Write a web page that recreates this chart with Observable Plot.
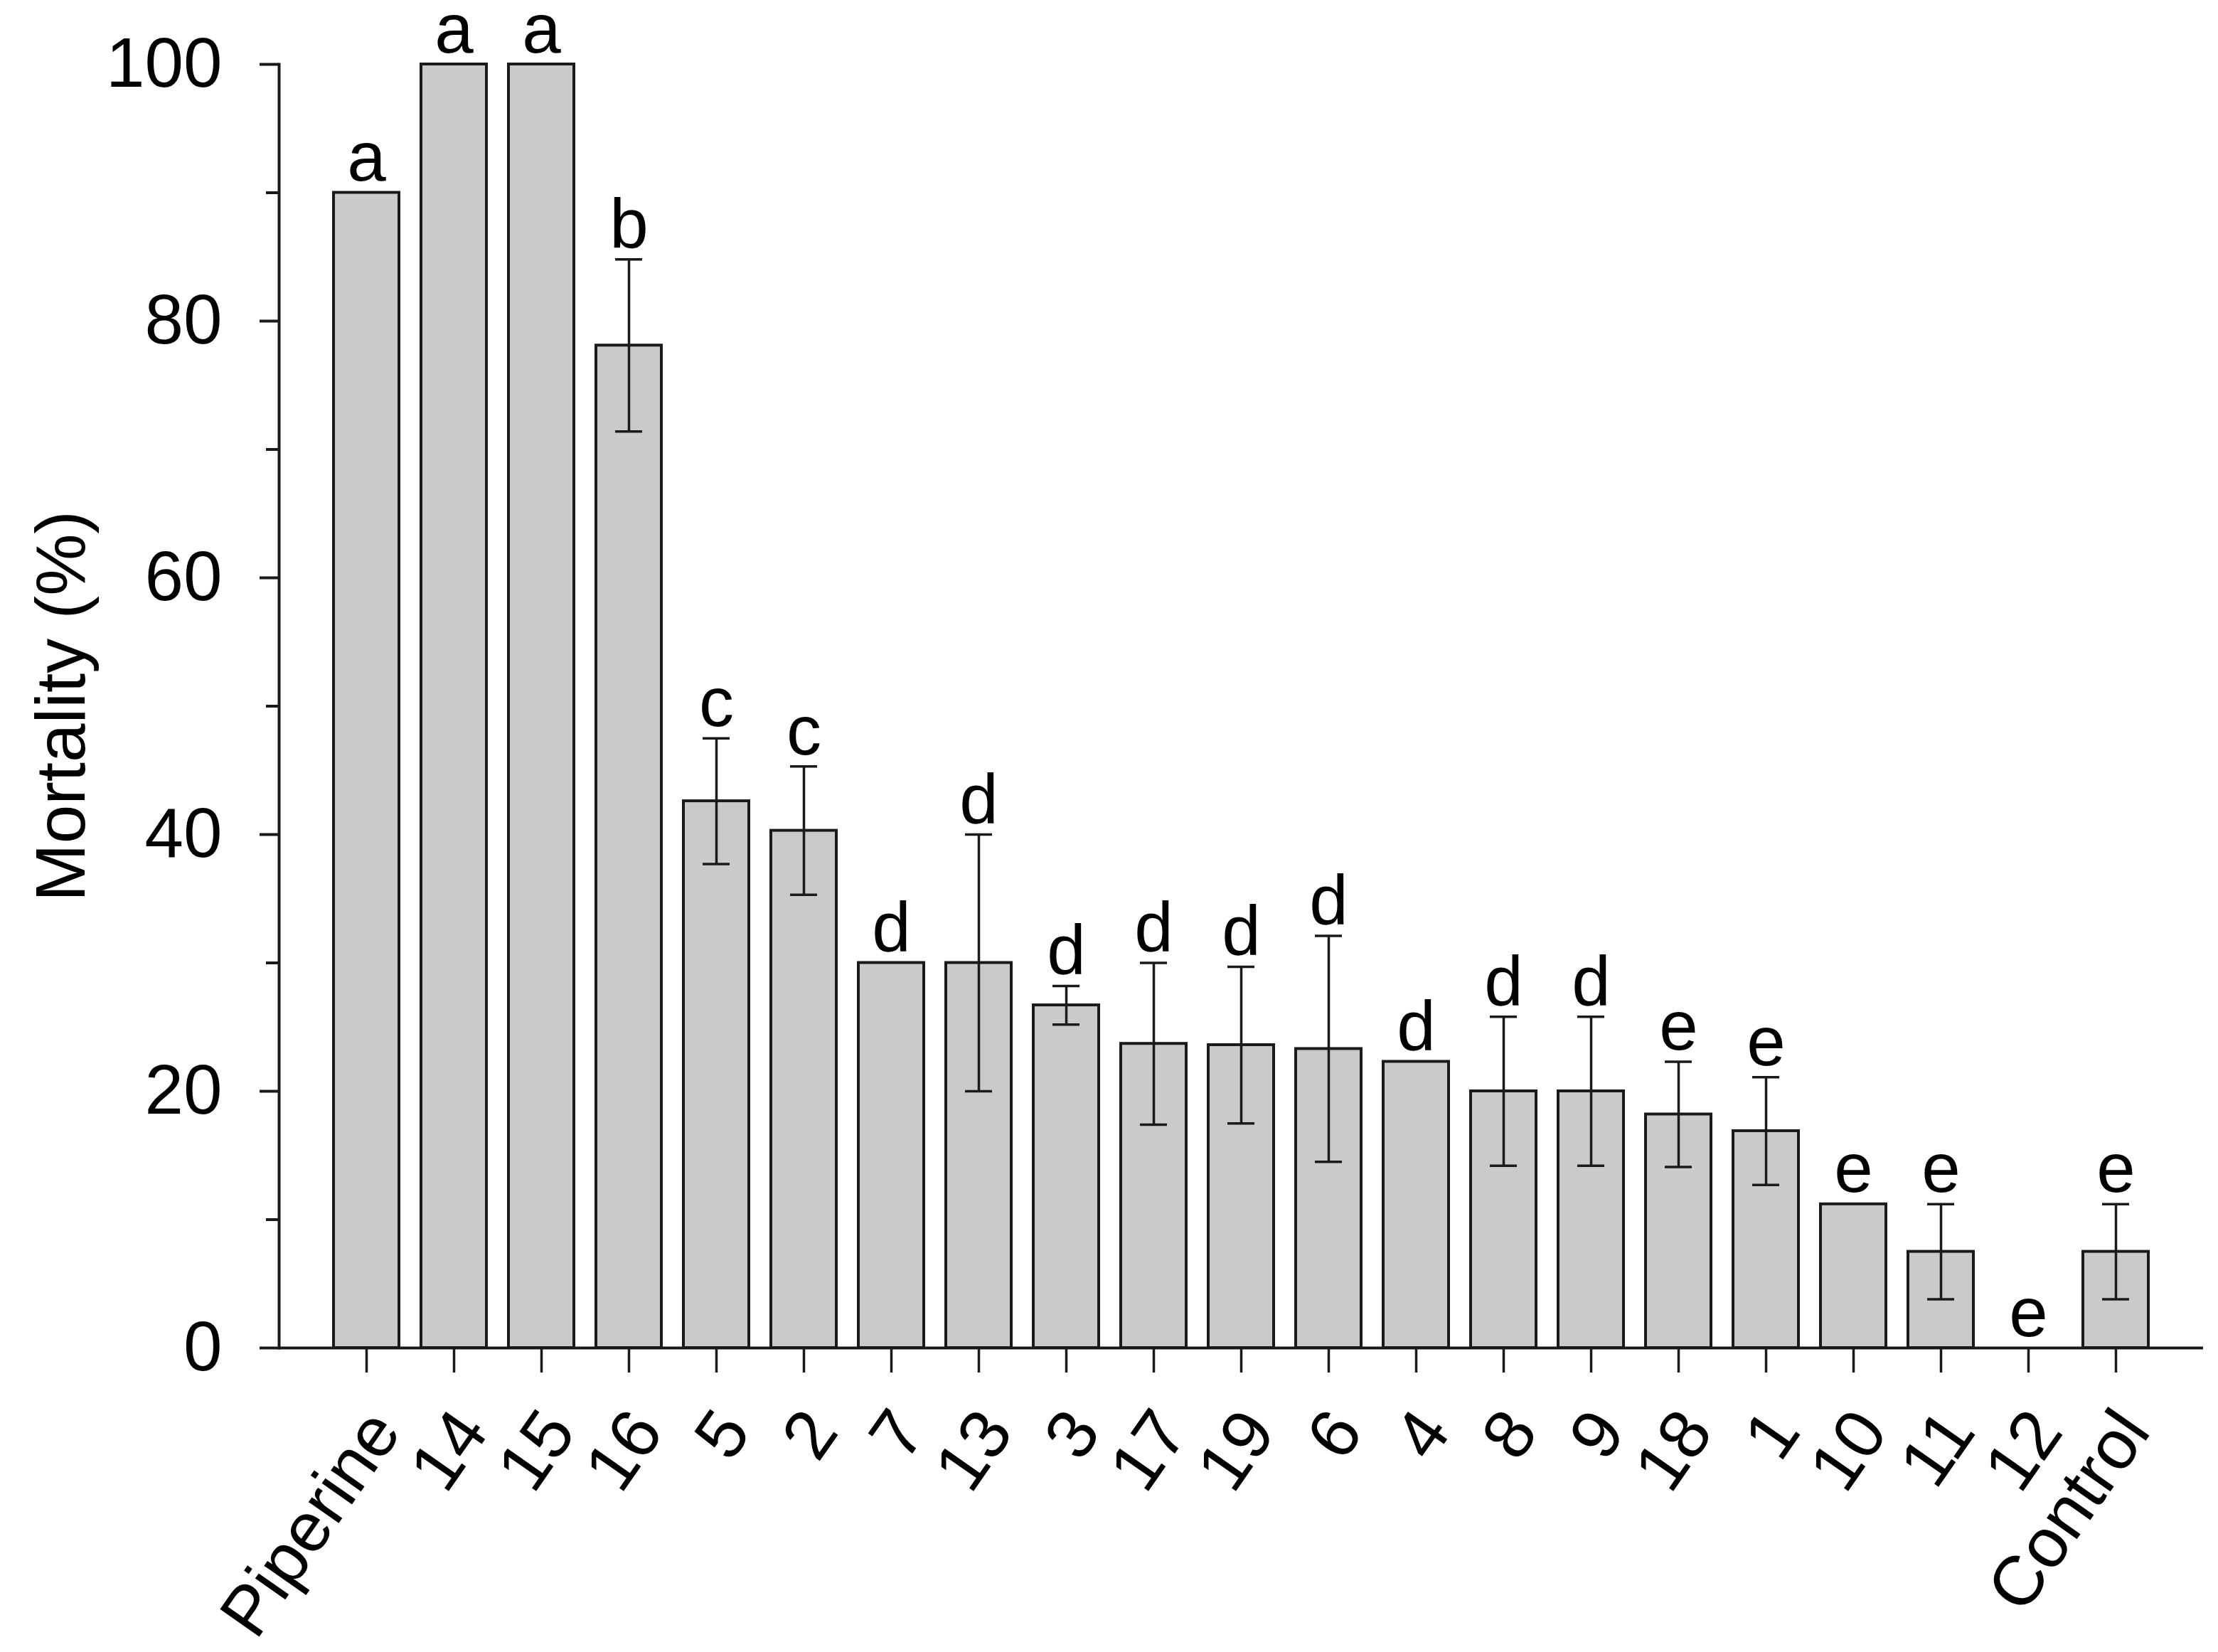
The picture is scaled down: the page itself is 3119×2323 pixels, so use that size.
<!DOCTYPE html>
<html><head><meta charset="utf-8">
<script src="https://cdn.jsdelivr.net/npm/d3@7"></script>
<script src="https://cdn.jsdelivr.net/npm/@observablehq/plot@0.6"></script>
<style>html,body{margin:0;padding:0;background:#fff} svg{display:block;overflow:visible}</style>
</head><body><div id="chart"></div>
<script>
const categories = ["Piperine","14","15","16","5","2","7","13","3","17","19","6","4","8","9","18","1","10","11","12","Control"];
const mortality = [90,100,100,78.1,42.6,40.3,30,30,26.7,23.7,23.6,23.3,22.3,20,20,18.2,16.9,11.2,7.5,0,7.5];
const stdError = [0,0,0,6.7,4.9,5.0,0,10,1.5,6.3,6.1,8.8,0,5.8,5.8,4.1,4.2,0,3.7,0,3.7];
const letters = ["a","a","a","b","c","c","d","d","d","d","d","d","d","d","d","e","e","e","e","e","e"];
const yTicks = [0,20,40,60,80,100];
const yMinorTicks = [10,30,50,70,90];
const yTitle = "Mortality (%)";

const data = categories.map((c, i) => ({cat: c, mean: mortality[i], se: stdError[i], letter: letters[i]}));
const bars = data.filter(d => d.mean > 0);
const errs = data.filter(d => d.se > 0);

const ink = "#1a1a1a";
const fs = 98;

const chart = Plot.plot({
  width: 3119,
  height: 2323,
  marginLeft: 392,
  marginRight: 21,
  marginTop: 90,
  marginBottom: 428,
  style: {fontFamily: "'Liberation Sans', Arial, sans-serif", fontSize: fs + "px", background: "#fff", color: "#000"},
  x: {type: "band", domain: categories, paddingInner: 0.25, paddingOuter: 0.625, label: null},
  y: {domain: [0, 100], label: null},
  marks: [
    Plot.barY(bars, {x: "cat", y: "mean", fill: "#cacaca", stroke: ink, strokeWidth: 4}),
    Plot.ruleX(errs, {x: "cat", y1: d => d.mean - d.se, y2: d => d.mean + d.se, stroke: ink, strokeWidth: 3.5}),
    Plot.tickY(errs, {x: "cat", y: d => d.mean - d.se, insetLeft: 27, insetRight: 27, stroke: ink, strokeWidth: 3.5}),
    Plot.tickY(errs, {x: "cat", y: d => d.mean + d.se, insetLeft: 27, insetRight: 27, stroke: ink, strokeWidth: 3.5}),
    Plot.text(data, {x: "cat", y: d => d.mean + d.se, text: "letter", dy: -17, lineAnchor: "bottom", fontSize: fs, fill: "#000"}),
    Plot.ruleY([0], {stroke: ink, strokeWidth: 4}),
    Plot.frame({anchor: "left", stroke: ink, strokeWidth: 4}),
    Plot.axisY(yTicks, {tickSize: 27, tickPadding: 53, fontSize: fs, label: null, stroke: ink, strokeWidth: 4}),
    Plot.axisY(yMinorTicks, {tickSize: 18, tickFormat: () => "", label: null, stroke: ink, strokeWidth: 4}),
    Plot.axisX({tickSize: 35, tickFormat: () => "", label: null, stroke: ink, strokeWidth: 3.5}),
    Plot.axisX({tickSize: 0, tickRotate: -55, tickPadding: 100, dx: 25, fontSize: fs, label: null}),
    Plot.text([yTitle], {frameAnchor: "left", rotate: -90, dx: -305, fontSize: fs, textAnchor: "middle", lineAnchor: "middle", fill: "#000"})
  ]
});
document.getElementById("chart").appendChild(chart);
</script>
</body></html>
